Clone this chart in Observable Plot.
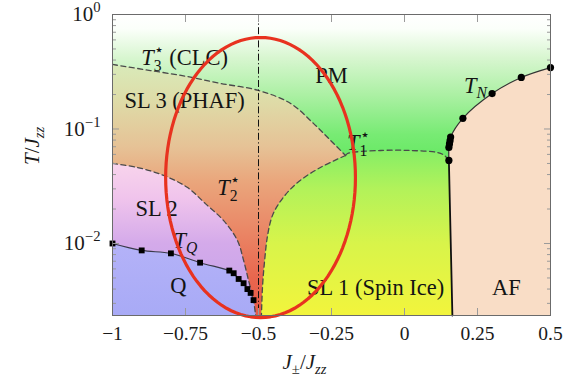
<!DOCTYPE html>
<html><head><meta charset="utf-8">
<script src="https://cdn.jsdelivr.net/npm/d3@7"></script>
<script src="https://cdn.jsdelivr.net/npm/@observablehq/plot@0.6"></script>
<style>
html,body{margin:0;padding:0;background:#fff;}
#chart svg{display:block;}
</style></head><body><div id="chart"></div>
<script>
// ---- domain ----
const xMin = -1, xMax = 0.5, yMin = 0.00235, yMax = 1;

// ---- phase boundaries [J±/Jzz, T/Jzz] ----
const t3Star = [[-1,0.366],[-0.87,0.324],[-0.743,0.287],[-0.63,0.25],[-0.5,0.217],[-0.39,0.167],[-0.312,0.112],[-0.253,0.0794],[-0.202,0.0587]];
const t2StarRight = [[-0.202,0.0587],[-0.288,0.0461],[-0.366,0.0341],[-0.418,0.0247],[-0.452,0.0176],[-0.469,0.0117],[-0.479,0.00711],[-0.486,0.0043],[-0.49,yMin]];
const t1StarPlateau = [[-0.202,0.0587],[-0.195,0.0611],[-0.082,0.0649],[0.021,0.0649],[0.113,0.0623],[0.137,0.0587],[0.152,0.0531]];
const t2StarLeft = [[-1,0.05],[-0.914,0.0461],[-0.825,0.0393],[-0.743,0.0308],[-0.682,0.0223],[-0.62,0.0159],[-0.572,0.0106],[-0.551,0.00711],[-0.534,0.00475],[-0.517,0.00318],[-0.51,yMin]];
const tqX = [-1,-0.9,-0.8,-0.7,-0.6,-0.585,-0.568,-0.551,-0.538,-0.527,-0.517];
const tqT = [0.01,0.0087,0.0082,0.0068,0.0058,0.0055,0.0049,0.0045,0.0040,0.0037,0.0032];
const tnX = [0.152,0.152,0.154,0.156,0.158,0.2,0.3,0.4,0.5];
const tnT = [0.0531,0.069,0.074,0.079,0.085,0.124,0.204,0.282,0.344];
const afBoundary = [[0.152,0.0531],[0.164,yMin]];
const dashDotX = [-0.5];

// ---- annotation ellipse (center / radii in data units, log10 for T) ----
const ellCx = -0.493, ellRx = 0.325, ellLogCy = -1.424, ellLogRy = 1.223;

// ---- ticks ----
const xTicks = [-1,-0.75,-0.5,-0.25,0,0.25,0.5];
const xTickLabels = ["\u22121","\u22120.75","\u22120.5","\u22120.25","0","0.25","0.5"];
const yTicks = [1,0.1,0.01];
const yTickLabels = ["10{sup:0}","10{sup:\u22121}","10{sup:\u22122}"];

// ---- region labels ----
const labelX = [-0.753,-0.753,-0.25,0.243,-0.158,-0.603,-0.849,-0.75,-0.774,-0.099,0.349];
const labelT = [0.421,0.177,0.293,0.24,0.0762,0.0308,0.0202,0.0106,0.0043,0.00413,0.00413];
const labelText = ["{i:T}{stack:3|\u22c6} (CLC)","SL 3 (PHAF)","PM","{i:T}{subi:N}","{i:T}{stack:1|\u22c6}","{i:T}{stack:2|\u22c6}","SL 2","{i:T}{subi:Q}","Q","SL 1 (Spin Ice)","AF"];

// ---- styles ----
const gradStops = {
  gPM: [[1,"#ffffff"],[0.75,"#fbfffa"],[0.42,"#d8f6d0"],[0.2,"#acf0a4"],[0.09,"#78eb74"],[0.045,"#60e85c"],[yMin,"#60e85c"]],
  gSL3: [[0.4,"#d8ecbc"],[0.18,"#dedca8"],[0.07,"#e6c296"],[0.035,"#eaa67c"],[0.012,"#ea8464"],[0.005,"#e8664e"],[yMin,"#e65a48"]],
  gSL2: [[0.05,"#f8d4ec"],[0.025,"#f0c4ec"],[0.01,"#d4aaea"],[yMin,"#c2a2ea"]],
  gQ: [[0.01,"#b4b2f8"],[yMin,"#a8aaf6"]],
  gSL1: [[0.065,"#86ee66"],[0.03,"#b2f25a"],[0.01,"#d8f44a"],[yMin,"#f2f43c"]]
};
const afColor = "#f9ddc6";
const tickColor = "#9a9a9a";

const ns = "http://www.w3.org/2000/svg";
function gradients(index, scales) {
  const defs = document.createElementNS(ns, "defs");
  const yTop = scales.y(yMax), yBot = scales.y(yMin);
  for (const [id, stops] of Object.entries(gradStops)) {
    const g = document.createElementNS(ns, "linearGradient");
    g.setAttribute("id", id);
    g.setAttribute("gradientUnits", "userSpaceOnUse");
    g.setAttribute("x1", 0); g.setAttribute("x2", 0);
    g.setAttribute("y1", yTop); g.setAttribute("y2", yBot);
    for (const [t, c] of stops) {
      const s = document.createElementNS(ns, "stop");
      s.setAttribute("offset", (scales.y(t) - yTop) / (yBot - yTop));
      s.setAttribute("stop-color", c);
      g.appendChild(s);
    }
    defs.appendChild(g);
  }
  return defs;
}

// polygons (duplicated corner points keep the corners sharp)
const dup = p => [p, p];
const J = t1StarPlateau[t1StarPlateau.length - 1];
const tn = tnX.map((x, i) => [x, tnT[i]]);
const tq = tqX.map((x, i) => [x, tqT[i]]);
const sl3Poly = [...dup([xMin,yMin]), t3Star[0], ...t3Star, ...t2StarRight, t2StarRight[t2StarRight.length-1]];
const sl2Poly = [...dup([xMin,yMin]), t2StarLeft[0], ...t2StarLeft, t2StarLeft[t2StarLeft.length-1]];
const qPoly = [...dup([xMin,yMin]), tq[0], ...tq, ...dup(t2StarLeft[t2StarLeft.length-1])];
const sl1Poly = [t2StarRight[t2StarRight.length-1], ...[...t2StarRight].reverse(), ...t1StarPlateau, J, ...dup(afBoundary[1])];
const afPoly = [...dup(afBoundary[1]), J, ...tn, tn[tn.length-1], ...dup([xMax,yMin])];
const ellipse = d3.range(0, 121).map(i => { const a = 2*Math.PI*i/120; return [ellCx + ellRx*Math.cos(a), 10 ** (ellLogCy + ellLogRy*Math.sin(a))]; });
const labels = labelText.map((t, i) => ({t, x: labelX[i], y: labelT[i]}));
const yMinor = d3.scaleLog().domain([yMin, yMax]).ticks().filter(t => !yTicks.some(v => Math.abs(v - t) < 1e-12));

const X = d => d[0], Y = d => d[1];
const fillPoly = (data, fill) => Plot.line(data, {x: X, y: Y, curve: "catmull-rom", fill, stroke: "none", clip: "frame"});
const dashed = data => Plot.line(data, {x: X, y: Y, curve: "catmull-rom", stroke: "#4a4a4a", strokeWidth: 1.3, strokeDasharray: "5,3.5", clip: "frame"});

const chart = Plot.plot({
  width: 569, height: 379,
  marginLeft: 112, marginRight: 19, marginTop: 14, marginBottom: 64,
  x: {domain: [xMin, xMax]},
  y: {type: "log", domain: [yMin, yMax]},
  style: {fontFamily: "Liberation Serif", fontSize: "19px", background: "white", color: "#1a1a1a"},
  marks: [
    gradients,
    Plot.frame({fill: "url(#gPM)", stroke: "none"}),
    fillPoly(sl3Poly, "url(#gSL3)"),
    fillPoly(sl2Poly, "url(#gSL2)"),
    fillPoly(qPoly, "url(#gQ)"),
    fillPoly(sl1Poly, "url(#gSL1)"),
    fillPoly(afPoly, afColor),
    dashed(t3Star), dashed(t2StarRight), dashed(t1StarPlateau), dashed(t2StarLeft),
    Plot.ruleX(dashDotX, {stroke: "#111", strokeWidth: 1, strokeDasharray: "7,2.5,1.2,2.5"}),
    Plot.line(tq, {x: X, y: Y, curve: "catmull-rom", stroke: "#3a3a4a", strokeWidth: 1.1}),
    Plot.dot(tq, {x: X, y: Y, symbol: "square", r: 3.3, fill: "#000", stroke: "none"}),
    Plot.line(tn, {x: X, y: Y, curve: "catmull-rom", stroke: "#333", strokeWidth: 1.2}),
    Plot.line(afBoundary, {x: X, y: Y, stroke: "#111", strokeWidth: 1.8}),
    Plot.dot(tn, {x: X, y: Y, r: 3.6, fill: "#000", stroke: "none"}),
    Plot.text(labels, {x: "x", y: "y", text: "t", fontSize: 22.5, fill: "#141414"}),
    Plot.line(ellipse, {x: X, y: Y, stroke: "#e8321f", strokeWidth: 3.2}),
    // inward ticks
    Plot.axisX({anchor: "bottom", ticks: xTicks, tickSize: 7, dy: -7, tickFormat: () => "", stroke: tickColor, label: null}),
    Plot.axisX({anchor: "top", ticks: xTicks, tickSize: 7, dy: 7, tickFormat: () => "", stroke: tickColor, label: null}),
    Plot.axisY({anchor: "left", ticks: yTicks, tickSize: 7, dx: 7, tickFormat: () => "", stroke: tickColor, label: null}),
    Plot.axisY({anchor: "right", ticks: yTicks, tickSize: 7, dx: -7, tickFormat: () => "", stroke: tickColor, label: null}),
    Plot.axisY({anchor: "left", ticks: yMinor, tickSize: 4, dx: 4, tickFormat: () => "", stroke: tickColor, label: null}),
    Plot.axisY({anchor: "right", ticks: yMinor, tickSize: 4, dx: -4, tickFormat: () => "", stroke: tickColor, label: null}),
    // tick labels
    Plot.axisX({anchor: "bottom", ticks: xTicks, tickSize: 0, tickPadding: 11, tickFormat: d => xTickLabels[xTicks.indexOf(d)], label: null, fontSize: 19.5}),
    Plot.axisY({anchor: "left", ticks: yTicks, tickSize: 0, tickPadding: 12, tickFormat: d => yTickLabels[yTicks.indexOf(d)], label: null, fontSize: 21}),
    // axis titles
    Plot.text(["{i:J}{sub:\u00b1}/{i:J}{subi:zz}"], {frameAnchor: "bottom", dy: 47, dx: -27, lineAnchor: "middle", fontSize: 21}),
    Plot.text(["{i:T}/{i:J}{subi:zz}"], {frameAnchor: "left", dx: -80, rotate: -90, lineAnchor: "middle", fontSize: 21}),
    Plot.frame({stroke: "#6b6b6b", strokeWidth: 1})
  ]
});
document.getElementById("chart").appendChild(chart);

// rich text: italics, sub/superscripts as tspans
const re = /\{(\w+):([^}]*)\}|([^{]+)/g;
function richify(el) {
  const s = el.textContent;
  if (!s.includes("{")) return;
  const fs = parseFloat(getComputedStyle(el).fontSize) || 18;
  el.textContent = "";
  let cur = 0;
  const add = (txt, o = {}) => {
    const t = document.createElementNS(ns, "tspan");
    t.textContent = txt;
    const target = o.shift || 0;
    if (Math.abs(target - cur) > 1e-6) { t.setAttribute("dy", (target - cur).toFixed(2)); cur = target; }
    if (o.dx) t.setAttribute("dx", o.dx.toFixed(2));
    if (o.italic) t.setAttribute("font-style", "italic");
    if (o.small) t.setAttribute("font-size", (fs * 0.7).toFixed(1));
    el.appendChild(t);
    return t;
  };
  for (const m of s.matchAll(re)) {
    if (m[3] !== undefined) { add(m[3]); continue; }
    const k = m[1], v = m[2];
    if (k === "i") add(v, {italic: true});
    else if (k === "sub") add(v, {small: true, shift: fs * 0.24});
    else if (k === "subi") add(v, {small: true, shift: fs * 0.24, italic: true});
    else if (k === "sup") add(v, {small: true, shift: -fs * 0.42});
    else if (k === "stack") {
      const [a, b] = v.split("|");
      const ta = add(a, {small: true, shift: fs * 0.28});
      const w = ta.getComputedTextLength();
      add(b, {small: true, shift: -fs * 0.42, dx: -w});
    }
  }
}
chart.querySelectorAll("text").forEach(richify);
</script></body></html>
